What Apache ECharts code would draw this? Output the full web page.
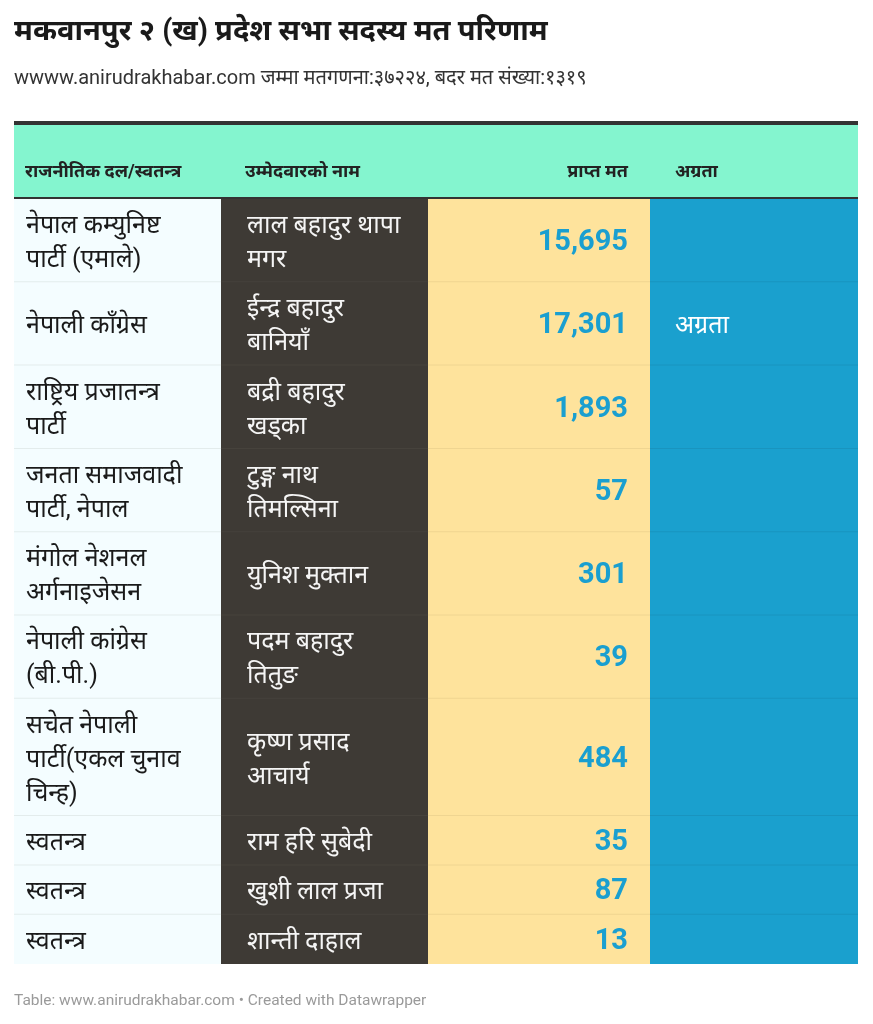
<!DOCTYPE html>
<html><head><meta charset="utf-8">
<script src="https://cdn.jsdelivr.net/npm/echarts@6/dist/echarts.min.js"></script>
<style>html,body{margin:0;padding:0;background:#fff}#c{width:873px;height:1024px}</style>
</head><body><div id="c"></div>
<script>
// ---- data ----
const headers = ['राजनीतिक दल/स्वतन्त्र', 'उम्मेदवारको नाम', 'प्राप्त मत', 'अग्रता'];
const parties = [
  'नेपाल कम्युनिष्ट\nपार्टी (एमाले)',
  'नेपाली काँग्रेस',
  'राष्ट्रिय प्रजातन्त्र\nपार्टी',
  'जनता समाजवादी\nपार्टी, नेपाल',
  'मंगोल नेशनल\nअर्गनाइजेसन',
  'नेपाली कांग्रेस\n(बी.पी.)',
  'सचेत नेपाली\nपार्टी(एकल चुनाव\nचिन्ह)',
  'स्वतन्त्र',
  'स्वतन्त्र',
  'स्वतन्त्र'
];
const candidates = [
  'लाल बहादुर थापा\nमगर',
  'ईन्द्र बहादुर\nबानियाँ',
  'बद्री बहादुर\nखड्का',
  'टुङ्ग नाथ\nतिमल्सिना',
  'युनिश मुक्तान',
  'पदम बहादुर\nतितुङ',
  'कृष्ण प्रसाद\nआचार्य',
  'राम हरि सुबेदी',
  'खुशी लाल प्रजा',
  'शान्ती दाहाल'
];
const votes = [15695, 17301, 1893, 57, 301, 39, 484, 35, 87, 13];
const lead = ['', 'अग्रता', '', '', '', '', '', '', '', ''];
const titleText = 'मकवानपुर २ (ख) प्रदेश सभा सदस्य मत परिणाम';
const subtitleText = 'wwww.anirudrakhabar.com जम्मा मतगणना:३७२२४, बदर मत संख्या:१३१९';
const footerText = 'Table: www.anirudrakhabar.com • Created with Datawrapper';

// ---- layout & style ----
const L = { left: 14, top: 121, headerH: 78, lineH: 34, pad: 15.3, colW: [207, 207, 222, 208], textDy: 3 };
const FONT = 'Roboto, "Noto Sans", sans-serif';
const colBg = ['#f4fdff', '#3e3a35', '#fee39c', '#1aa0ce'];
const sepCol = ['#e3ecec', '#46423c', '#efd591', '#1994bf'];

const colEdges = [0];
L.colW.forEach(w => colEdges.push(colEdges[colEdges.length - 1] + w));
const tableW = colEdges[colEdges.length - 1];

const lines = s => s.split('\n').length;
const rowData = [];
let y = L.headerH;
parties.forEach((p, i) => {
  const n = Math.max(lines(p), lines(candidates[i]));
  const h = L.pad + L.lineH * n;
  rowData.push([i, y, y + h]);
  y += h;
});
const totalH = y;

const chart = echarts.init(document.getElementById('c'), null, { renderer: 'canvas' });

function renderHeader(params, api) {
  const p0 = api.coord([0, 0]);
  const p1 = api.coord([tableW, L.headerH]);
  const w = p1[0] - p0[0];
  const children = [
    { type: 'rect', shape: { x: p0[0], y: p0[1], width: w, height: p1[1] - p0[1] }, style: { fill: '#84f5cf' } },
    { type: 'rect', shape: { x: p0[0], y: p0[1], width: w, height: 4 }, style: { fill: '#333333' } },
    { type: 'rect', shape: { x: p0[0], y: p1[1] - 2, width: w, height: 2 }, style: { fill: '#333333' } }
  ];
  const ty = p0[1] + 51;
  headers.forEach((h, c) => {
    const xl = api.coord([colEdges[c], 0])[0];
    const xr = api.coord([colEdges[c + 1], 0])[0];
    const right = c === 2;
    children.push({
      type: 'text',
      style: {
        text: h, x: right ? xr - 22 : xl + (c === 0 ? 11 : c === 1 ? 24 : 25), y: ty,
        fill: '#222', font: 'bold 18px ' + FONT,
        textAlign: right ? 'right' : 'left', textVerticalAlign: 'middle'
      }
    });
  });
  return { type: 'group', children };
}

function renderRow(params, api) {
  const i = api.value(0);
  const a = api.coord([0, api.value(1)]);
  const b = api.coord([tableW, api.value(2)]);
  const y0 = a[1], y1 = b[1], cy = (y0 + y1) / 2;
  const ty = cy + L.textDy;
  const last = i === parties.length - 1;
  const children = [];
  for (let c = 0; c < 4; c++) {
    const xl = api.coord([colEdges[c], 0])[0];
    const xr = api.coord([colEdges[c + 1], 0])[0];
    children.push({ type: 'rect', shape: { x: xl, y: y0, width: xr - xl, height: y1 - y0 }, style: { fill: colBg[c] } });
    if (!last) {
      children.push({ type: 'rect', shape: { x: xl, y: y1 - 1, width: xr - xl, height: 2 }, style: { fill: sepCol[c] } });
    }
  }
  const x = c => api.coord([colEdges[c], 0])[0];
  children.push({ type: 'text', style: { text: parties[i], x: x(0) + 12, y: ty, fill: '#1a1a1a', font: '25px ' + FONT, lineHeight: L.lineH, textAlign: 'left', textVerticalAlign: 'middle' } });
  children.push({ type: 'text', style: { text: candidates[i], x: x(1) + 26, y: ty, fill: '#f5f5f5', font: '25px ' + FONT, lineHeight: L.lineH, textAlign: 'left', textVerticalAlign: 'middle' } });
  children.push({ type: 'text', style: { text: votes[i].toLocaleString('en-US'), x: x(3) - 22, y: cy + 2, fill: '#1a9fd0', font: 'bold 29px ' + FONT, textAlign: 'right', textVerticalAlign: 'middle' } });
  if (lead[i]) {
    children.push({ type: 'text', style: { text: lead[i], x: x(3) + 25, y: ty, fill: '#ffffff', font: '25px ' + FONT, textAlign: 'left', textVerticalAlign: 'middle' } });
  }
  return { type: 'group', children };
}

chart.setOption({
  animation: false,
  backgroundColor: '#ffffff',
  title: [
    { text: titleText, left: 14, top: 18, padding: 0, textStyle: { fontFamily: FONT, fontSize: 29, fontWeight: 'bold', color: '#1a1a1a' } },
    { text: subtitleText, left: 14, top: 69, padding: 0, textStyle: { fontFamily: FONT, fontSize: 20, fontWeight: 'normal', color: '#333' } },
    { text: footerText, left: 14, top: 993, padding: 0, textStyle: { fontFamily: FONT, fontSize: 15.5, fontWeight: 'normal', color: '#9a9a9a' } }
  ],
  grid: { left: L.left, top: L.top, width: tableW, height: totalH },
  xAxis: { type: 'value', min: 0, max: tableW, show: false },
  yAxis: { type: 'value', min: 0, max: totalH, inverse: true, show: false },
  series: [
    { type: 'custom', silent: true, renderItem: renderHeader, data: [[0]], clip: false },
    { type: 'custom', silent: true, renderItem: renderRow, data: rowData, encode: { x: [], y: [1, 2] }, clip: false }
  ]
});
</script></body></html>
